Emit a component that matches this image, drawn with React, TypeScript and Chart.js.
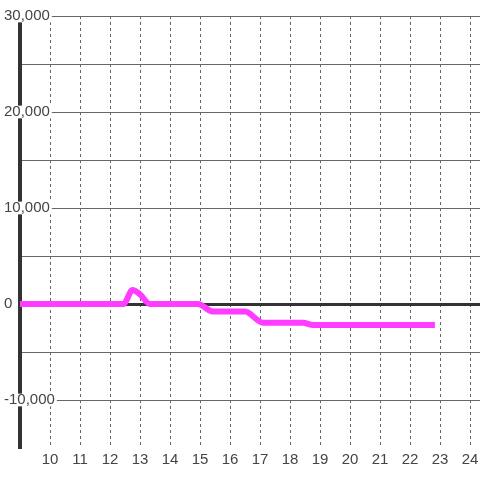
import React, { useEffect, useRef } from "react";
import { Chart, registerables } from "chart.js";

Chart.register(...registerables);

// Data (x = hour, y = value)
const seriesX = [9, 12.45, 12.75, 13.0, 13.33, 14.93, 15.43, 16.5, 17.1, 18.43, 18.77, 22.83];
const seriesY = [0, 0, 1450, 1000, 0, 0, -780, -780, -1950, -1950, -2180, -2180];

const xTicks = [10, 11, 12, 13, 14, 15, 16, 17, 18, 19, 20, 21, 22, 23, 24];
const yLabeledTicks = [-10000, 0, 10000, 20000, 30000];

const X_MIN = 9;
const X_MAX = 24.3333;
const Y_MIN = -15000;
const Y_MAX = 30000;
const Y_STEP = 5000;

const FONT = "'Liberation Sans', Arial, sans-serif";

export default function App() {
  const ref = useRef<HTMLCanvasElement | null>(null);

  useEffect(() => {
    if (!ref.current) return;
    const points = seriesX.map((x, i) => ({ x, y: seriesY[i] }));
    const chart = new Chart(ref.current, {
      type: "line",
      data: {
        datasets: [
          {
            data: points,
            borderColor: "#ff3cff",
            backgroundColor: "#ff3cff",
            borderWidth: 6,
            pointRadius: 0,
            cubicInterpolationMode: "monotone",
            borderJoinStyle: "round",
            fill: false,
          },
        ],
      },
      options: {
        animation: false,
        responsive: false,
        plugins: { legend: { display: false }, tooltip: { enabled: false } },
        layout: { padding: { top: 16, left: 0, right: 0, bottom: 0 } },
        scales: {
          x: {
            type: "linear",
            min: X_MIN,
            max: X_MAX,
            afterBuildTicks: (scale: any) => {
              scale.ticks = xTicks.map((v) => ({ value: v }));
            },
            afterFit: (scale: any) => {
              scale.height = 32;
              scale.paddingLeft = 0;
              scale.paddingRight = 0;
            },
            border: { display: false, dash: [3, 3] },
            grid: {
              drawTicks: false,
              color: "#666",
              lineWidth: 1,
            },
            ticks: {
              padding: 3,
              color: "#444",
              font: { family: FONT, size: 15 },
              maxRotation: 0,
              autoSkip: false,
              callback: (v: any) => String(v),
            },
          },
          y: {
            type: "linear",
            min: Y_MIN,
            max: Y_MAX,
            afterFit: (scale: any) => {
              scale.width = 20;
              scale.paddingTop = 0;
              scale.paddingBottom = 0;
            },
            border: { display: true, color: "#333", width: 4 },
            grid: {
              drawTicks: false,
              color: (ctx: any) => (ctx.tick && ctx.tick.value === Y_MIN ? "rgba(0,0,0,0)" : ctx.tick && ctx.tick.value === 0 ? "#333" : "#666"),
              lineWidth: (ctx: any) => (ctx.tick && ctx.tick.value === 0 ? 3 : 1),
            },
            ticks: {
              stepSize: Y_STEP,
              mirror: true,
              padding: -16,
              color: "#444",
              font: { family: FONT, size: 15, lineHeight: 0.85 },
              showLabelBackdrop: (ctx: any) => !!ctx.tick && yLabeledTicks.includes(ctx.tick.value),
              backdropColor: "#ffffff",
              backdropPadding: { top: 0, bottom: 0, left: 2, right: 2 },
              callback: (v: any) => (yLabeledTicks.includes(Number(v)) ? Number(v).toLocaleString("en-US") : ""),
            },
          },
        },
      },
    } as any);
    return () => chart.destroy();
  }, []);

  return (
    <div style={{ position: "fixed", left: 0, top: 0, width: 480, height: 480, background: "#fff" }}>
      <canvas ref={ref} width={480} height={480} style={{ display: "block" }} />
    </div>
  );
}
